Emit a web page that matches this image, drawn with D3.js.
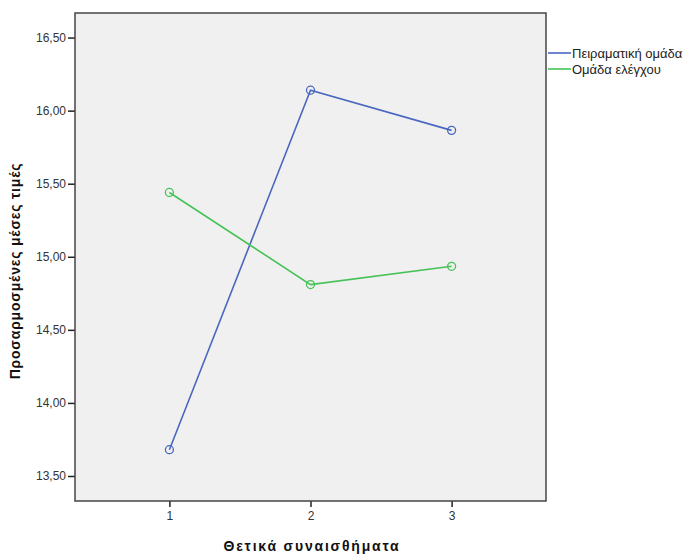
<!DOCTYPE html>
<html>
<head>
<meta charset="utf-8">
<script src="https://cdn.jsdelivr.net/npm/d3@7"></script>
<style>
  body { margin: 0; background: #fff; }
  svg { display: block; font-family: Arial, "Liberation Sans", sans-serif; }
</style>
</head>
<body>
<svg id="chart" width="684" height="555"></svg>
<script>
// Factor levels and estimated marginal means for each group
const levels = [1, 2, 3];
const seriesNames = ["Πειραματική ομάδα", "Ομάδα ελέγχου"];
const experimental = [13.68, 16.14, 15.865];
const control = [15.44, 14.81, 14.935];
const yTicks = [13.5, 14.0, 14.5, 15.0, 15.5, 16.0, 16.5];
const seriesColors = ["#4a67c0", "#46c257"];

const svg = d3.select("#chart");
const plot = { left: 75, top: 13, right: 546, bottom: 501 };

const x = d3.scaleLinear().domain([0.331, 3.669]).range([plot.left, plot.right]);
const y = d3.scaleLinear().domain([13.329, 16.668]).range([plot.bottom, plot.top]);

// plot background
svg.append("rect")
  .attr("x", plot.left).attr("y", plot.top)
  .attr("width", plot.right - plot.left).attr("height", plot.bottom - plot.top)
  .attr("fill", "#f0f0f0");

const fmt = d => d.toFixed(2).replace(".", ",");

// y axis
const yAxis = svg.append("g")
  .attr("transform", `translate(${plot.left},0)`)
  .call(d3.axisLeft(y).tickValues(yTicks).tickFormat(fmt).tickSize(7).tickPadding(2));
yAxis.select(".domain").remove();
yAxis.selectAll(".tick line").attr("stroke", "#222").attr("stroke-width", 1.5);
yAxis.selectAll(".tick text").attr("fill", "#333").style("font-size", "12px");

// x axis
const xAxis = svg.append("g")
  .attr("transform", `translate(0,${plot.bottom})`)
  .call(d3.axisBottom(x).tickValues(levels).tickFormat(d3.format("d")).tickSize(6).tickPadding(4));
xAxis.select(".domain").remove();
xAxis.selectAll(".tick line").attr("stroke", "#222").attr("stroke-width", 1.5);
xAxis.selectAll(".tick text").attr("fill", "#333").style("font-size", "12px");

// frame
svg.append("rect")
  .attr("x", plot.left).attr("y", plot.top)
  .attr("width", plot.right - plot.left).attr("height", plot.bottom - plot.top)
  .attr("fill", "none").attr("stroke", "#444").attr("stroke-width", 1.5);

// series lines and markers
const allSeries = [experimental, control];
const line = d3.line().x((d, i) => x(levels[i])).y(d => y(d));
allSeries.forEach((vals, si) => {
  svg.append("path")
    .datum(vals)
    .attr("d", line)
    .attr("fill", "none")
    .attr("stroke", seriesColors[si])
    .attr("stroke-width", 1.6);
  svg.selectAll(null)
    .data(vals)
    .enter().append("circle")
    .attr("cx", (d, i) => x(levels[i]))
    .attr("cy", d => y(d))
    .attr("r", 4)
    .attr("fill", "none")
    .attr("stroke", seriesColors[si])
    .attr("stroke-width", 1.3);
});

// axis titles
svg.append("text")
  .attr("x", 312)
  .attr("y", 551)
  .attr("text-anchor", "middle")
  .attr("font-weight", "bold")
  .attr("fill", "#111")
  .style("font-size", "14px")
  .style("letter-spacing", "1.8px")
  .text("Θετικά συναισθήματα");

svg.append("text")
  .attr("transform", "translate(20,271) rotate(-90)")
  .attr("text-anchor", "middle")
  .attr("font-weight", "bold")
  .attr("fill", "#111")
  .style("font-size", "14px")
  .style("letter-spacing", "0.8px")
  .text("Προσαρμοσμένες μέσες τιμές");

// legend
const legend = svg.append("g").attr("transform", "translate(548,53)");
seriesNames.forEach((name, i) => {
  const g = legend.append("g").attr("transform", `translate(0,${i * 16})`);
  g.append("line").attr("x1", 0).attr("x2", 23).attr("y1", 0).attr("y2", 0)
    .attr("stroke", seriesColors[i]).attr("stroke-width", 1.6);
  g.append("text").attr("x", 24).attr("y", 4.5)
    .attr("fill", "#222").style("font-size", "13px").text(name);
});
</script>
</body>
</html>
